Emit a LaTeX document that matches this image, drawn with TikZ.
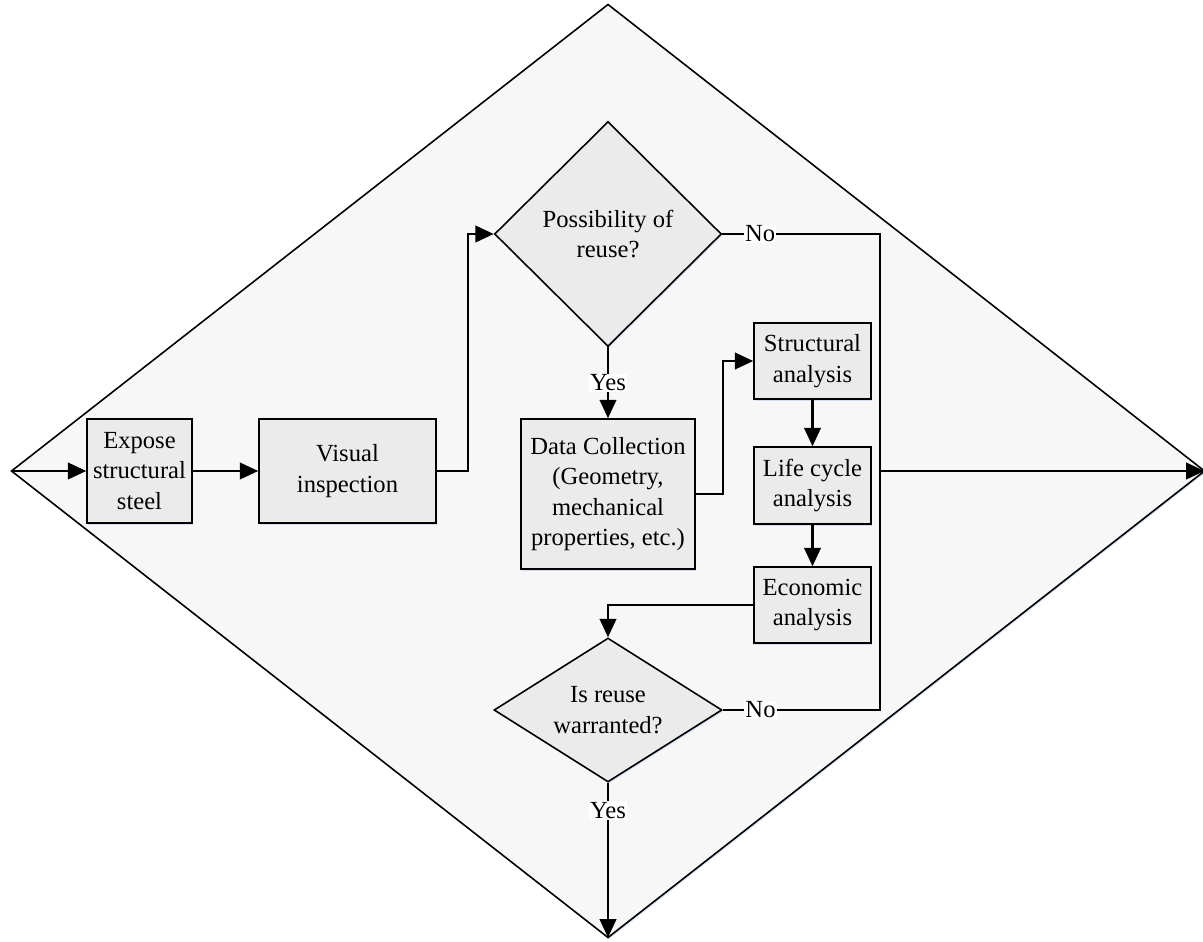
\documentclass[tikz,border=0pt]{standalone}
\usepackage{fontspec}
\setmainfont{Liberation Serif}
\definecolor{bgfill}{RGB}{247,247,247}
\definecolor{boxfill}{RGB}{235,235,235}
\definecolor{shadowblue}{RGB}{190,205,235}
\usetikzlibrary{arrows.meta,positioning,shapes.geometric,shadows}

\begin{document}
\begin{tikzpicture}[>={Triangle[length=10.5pt,width=9.5pt]},
    font=\fontsize{14}{17.4}\selectfont,
    box/.style={draw,line width=0.9pt,fill=boxfill,align=center,inner sep=1pt,
        drop shadow={shadow xshift=0.6pt,shadow yshift=-0.9pt,fill=shadowblue,opacity=0.6}},
    decision/.style={box,diamond,inner sep=1pt},
    lbl/.style={fill=white,inner sep=0.6pt},
    flow/.style={line width=1.2pt}]
  \useasboundingbox (0,0) rectangle (24.06,-18.84);
  %% Outer frame
  \node[draw,diamond,line width=0.9pt,fill=bgfill,inner sep=0pt,outer sep=0pt,
        minimum width=23.86cm,minimum height=18.66cm,
        drop shadow={shadow xshift=0.6pt,shadow yshift=-0.9pt,fill=shadowblue,opacity=0.6}]
        (frame) at (12.16,-9.42) {};
  %% Main steps
  \node[box,minimum width=2.1cm,minimum height=2.08cm]
        (expose) at (2.79,-9.42) {Expose\\structural\\steel};
  \node[box,minimum width=3.54cm,minimum height=2.08cm]
        (visual) at (6.95,-9.42) {Visual\\inspection};
  \node[decision,minimum width=4.54cm,minimum height=4.5cm]
        (reuse) at (12.16,-4.68) {Possibility of\\reuse?};
  \node[box,minimum width=3.48cm,minimum height=3.0cm]
        (data) at (12.16,-9.88) {Data Collection\\(Geometry,\\mechanical\\properties, etc.)};
  \node[box,minimum width=2.34cm,minimum height=1.52cm]
        (struct) at (16.25,-7.22) {Structural\\analysis};
  \node[box,minimum width=2.34cm,minimum height=1.54cm]
        (lca) at (16.25,-9.71) {Life cycle\\analysis};
  \node[box,minimum width=2.34cm,minimum height=1.52cm]
        (econ) at (16.25,-12.10) {Economic\\analysis};
  \node[decision,aspect=1.6,minimum width=4.56cm,minimum height=2.88cm]
        (warrant) at (12.16,-14.20) {Is reuse\\warranted?};
  \coordinate (merge) at (17.60,-9.42);
  %% Connectors
  \draw[->,flow] (frame.west)--(expose.west);
  \draw[->,flow] (expose)--(visual);
  \draw[->,flow] (visual.east)--++(0.62,0)|-(reuse.west);
  \draw[->,flow] (reuse.south)--node[lbl]{Yes}(data.north);
  \draw[->,flow] (data.east)--++(0.54,0)|-(struct.west);
  \draw[->,flow] (struct)--(lca);
  \draw[->,flow] (lca)--(econ);
  \draw[->,flow] (econ.west)-|(warrant.north);
  \draw[flow] (reuse.east)--node[lbl,pos=0.24]{No}(reuse.east-|merge)--(merge);
  \draw[flow] (warrant.east)--node[lbl,pos=0.24]{No}(warrant.east-|merge)--(merge);
  \draw[->,flow] (merge)--(frame.east);
  \draw[->,flow] (warrant.south)--node[lbl,pos=0.18]{Yes}(frame.south);
\end{tikzpicture}
\end{document}
